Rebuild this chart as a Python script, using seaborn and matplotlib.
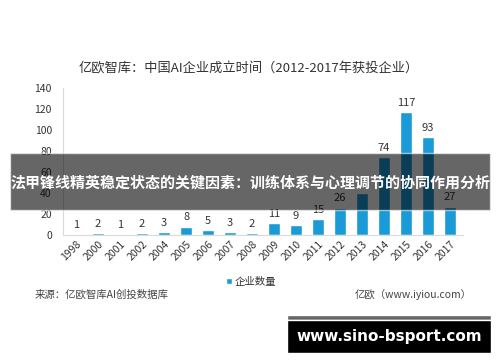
import matplotlib
matplotlib.use("Agg")
import matplotlib.pyplot as plt
import seaborn as sns
import pandas as pd
from matplotlib.patches import Rectangle

years = ["1998", "2000", "2001", "2002", "2004", "2005", "2006", "2007", "2008",
         "2009", "2010", "2011", "2012", "2013", "2014", "2015", "2016", "2017"]
counts = [1, 2, 1, 2, 3, 8, 5, 3, 2, 11, 9, 15, 26, 40, 74, 117, 93, 27]
# the 2013 label is hidden behind the banner text in the source image
shown = [True] * 13 + [False] + [True] * 4
yticks = [0, 20, 40, 60, 80, 100, 120, 140]

title = "亿欧智库：中国AI企业成立时间（2012-2017年获投企业）"
banner = "法甲锋线精英稳定状态的关键因素：训练体系与心理调节的协同作用分析"
source = "来源：亿欧智库AI创投数据库"
credit = "亿欧（www.iyiou.com）"
legend_label = "企业数量"
site = "www.sino-bsport.com"

sns.set_theme(style="white")
plt.rcParams['font.family'] = ['Noto Sans CJK SC', 'DejaVu Sans']

df = pd.DataFrame({"year": years, "count": counts})
blue = "#1a9bd7"

fig = plt.figure(figsize=(5, 3.62), dpi=100)
ax = fig.add_axes([0.126, 0.351, 0.80, 0.406])
sns.barplot(data=df, x="year", y="count", color=blue, width=0.55, ax=ax,
            saturation=1, label=legend_label)
ax.set_ylim(0, 140)
ax.set_xlim(-0.6, len(years) - 0.4)
ax.set_yticks(yticks)
ax.set_xlabel("")
ax.set_ylabel("")
ax.tick_params(axis="y", labelsize=7.5, colors="#333333", length=0, pad=8)
ax.tick_params(axis="x", labelsize=7.5, colors="#333333", length=0, pad=3)
for lab in ax.get_xticklabels():
    lab.set_rotation(45)
    lab.set_ha("right")
    lab.set_rotation_mode("anchor")
for s in ["top", "right"]:
    ax.spines[s].set_visible(False)
ax.spines["left"].set_color("#d9d9d9")
ax.spines["bottom"].set_color("#d9d9d9")
ax.spines["left"].set_linewidth(0.8)
ax.spines["bottom"].set_linewidth(0.8)
ax.bar_label(ax.containers[0],
             labels=[str(c) if s else "" for c, s in zip(counts, shown)],
             fontsize=8, color="#333333", padding=3)
ax.legend(loc="upper center", bbox_to_anchor=(0.47, -0.22), frameon=False,
          fontsize=7.5, handlelength=0.6, handleheight=0.6, handletextpad=0.3,
          labelcolor="#333333")

fig.text(0.497, 0.81, title, ha="center", va="center", fontsize=9.5, color="#333333")
fig.text(0.07, 0.185, source, ha="left", va="center", fontsize=7.5, color="#444444")
fig.text(0.71, 0.185, credit, ha="left", va="center", fontsize=7.5, color="#444444")

# translucent banner across the chart
fig.patches.append(Rectangle((0.02, 0.42), 0.96, 0.157, transform=fig.transFigure,
                             facecolor="black", alpha=0.6, zorder=5))
fig.text(0.5, 0.497, banner, ha="center", va="center", fontsize=10.8,
         fontweight="bold", color="white", zorder=6)

# site watermark box
fig.patches.append(Rectangle((0.574, 0.116), 0.408, 0.014, transform=fig.transFigure,
                             facecolor="#666666", zorder=5))
fig.patches.append(Rectangle((0.574, 0.025), 0.408, 0.091, transform=fig.transFigure,
                             facecolor="black", zorder=5))
fig.text(0.778, 0.07, site, ha="center", va="center", fontsize=11,
         fontweight="bold", color="white", zorder=6, family=["DejaVu Sans"])

fig.savefig("out.png", dpi=100)
